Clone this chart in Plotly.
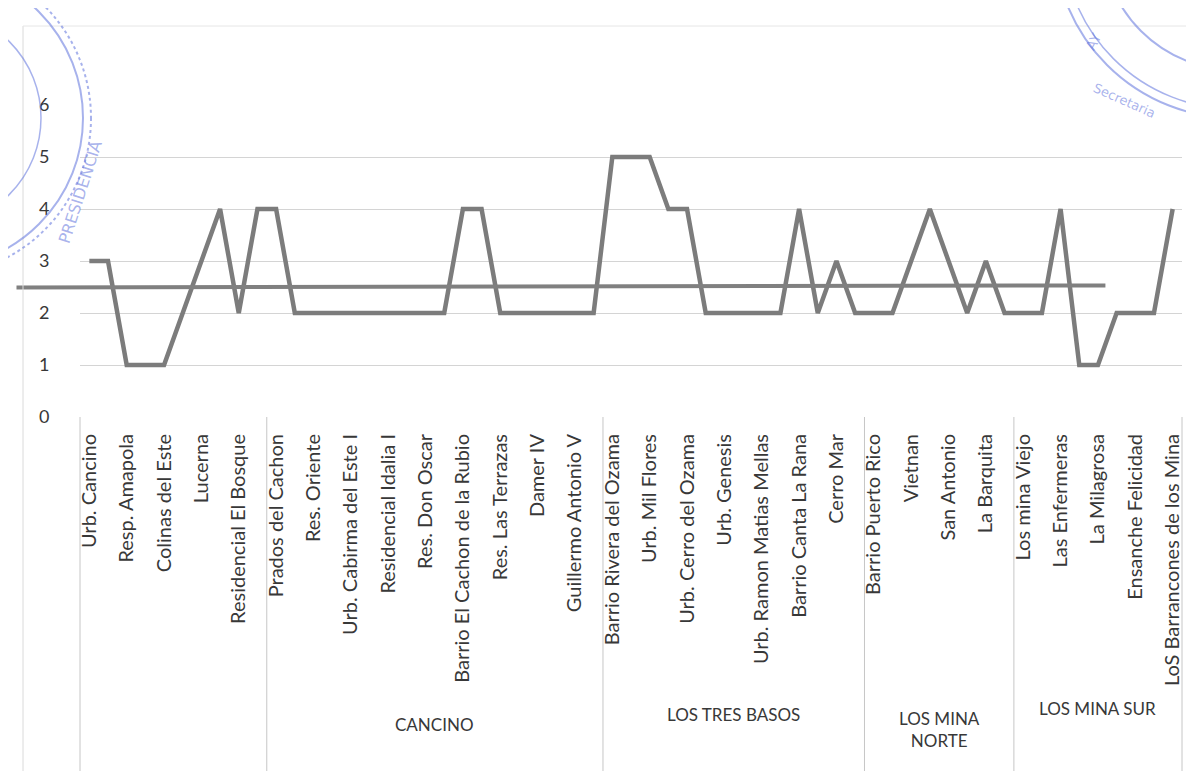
import plotly.graph_objects as go

# ---------------- data ----------------
values = [3, 3, 1, 1, 1, 2, 3, 4, 2, 4,
          4, 2, 2, 2, 2, 2, 2, 2, 2, 2,
          4, 4, 2, 2, 2, 2, 2, 2, 5, 5,
          5, 4, 4, 2, 2, 2, 2, 2, 4, 2,
          3, 2, 2, 2, 3, 4, 3, 2, 3, 2,
          2, 2, 4, 1, 1, 2, 2, 2, 4]

tick_labels = ["Urb. Cancino", "Resp. Amapola", "Colinas del Este", "Lucerna",
               "Residencial El Bosque", "Prados del Cachon", "Res. Oriente",
               "Urb. Cabirma del Este I", "Residencial Idalia I", "Res. Don Oscar",
               "Barrio El Cachon de la Rubio", "Res. Las Terrazas", "Damer IV",
               "Guillermo Antonio V", "Barrio Rivera del Ozama", "Urb. Mil Flores",
               "Urb. Cerro del Ozama", "Urb. Genesis", "Urb. Ramon Matias Mellas",
               "Barrio Canta La Rana", "Cerro Mar", "Barrio Puerto Rico", "Vietnan",
               "San Antonio", "La Barquita", "Los mina Viejo", "Las Enfermeras",
               "La Milagrosa", "Ensanche Felicidad", "LoS Barrancones de los Mina"]

group_names = ["", "CANCINO", "LOS TRES BASOS", "LOS MINA<br>NORTE", "LOS MINA SUR"]
group_sizes = [10, 18, 14, 8, 9]
group_label_y = [-0.99, -0.985, -0.955, -1.0, -0.935]   # paper units below the axis

y_ticks = [0, 1, 2, 3, 4, 5, 6]

trend_x = [-3.9, 54.4]
trend_y = [2.49, 2.53]

# ---------------- layout geometry ----------------
W, H = 1194, 771
L, R, T, B = 72, 20, 97, 362
PW, PH = W - L - R, H - T - B

n = len(values)
x = list(range(n))
tick_pos = x[::2]
X_RANGE = [-0.5, n - 0.5]
Y_RANGE = [0, 6]


def xp(v):  # data x -> paper x
    return (v - X_RANGE[0]) / (X_RANGE[1] - X_RANGE[0])


def yp(v):  # data y -> paper y
    return (v - Y_RANGE[0]) / (Y_RANGE[1] - Y_RANGE[0])


def pxx(px):  # pixel -> paper (decoration only)
    return (px - L) / PW


def pxy(py):
    return (H - B - py) / PH


TXT = "#383838"
LINEC = "#7c7c7c"
GRID = "#d4d4d4"
DIV = "#c6c6c6"

fig = go.Figure()
fig.add_trace(go.Scatter(
    x=x, y=values, mode="lines",
    line=dict(color=LINEC, width=4.5),
    showlegend=False, hoverinfo="y"))

shapes = []
# trend line (drawn in paper space so it is not clipped at the axis)
shapes.append(dict(type="line", xref="paper", yref="paper",
                   x0=xp(trend_x[0]), x1=xp(trend_x[1]),
                   y0=yp(trend_y[0]), y1=yp(trend_y[1]),
                   line=dict(color="#808080", width=4), layer="above"))

# group dividers below the axis
bounds = [-0.5]
for s in group_sizes:
    bounds.append(bounds[-1] + s)
y_bottom = pxy(764)
for b in bounds:
    shapes.append(dict(type="line", xref="paper", yref="paper",
                       x0=xp(b), x1=xp(b), y0=0, y1=y_bottom,
                       line=dict(color=DIV, width=1)))
shapes.append(dict(type="line", xref="paper", yref="paper",
                   x0=xp(bounds[0]), x1=xp(bounds[-1]), y0=y_bottom, y1=y_bottom,
                   line=dict(color=DIV, width=1)))

# page border lines of the scanned chart
for px in (15, 1190):
    shapes.append(dict(type="line", xref="paper", yref="paper",
                       x0=pxx(px), x1=pxx(px), y0=pxy(18), y1=pxy(H),
                       line=dict(color="#dadada", width=1)))
shapes.append(dict(type="line", xref="paper", yref="paper",
                   x0=pxx(15), x1=pxx(1190), y0=pxy(18), y1=pxy(18),
                   line=dict(color="#e6e6e6", width=1)))

# stamps (decoration)
STAMP = "rgba(95,115,220,0.55)"
for cx, cy, r, dash, w in [(-75, 110, 158, "dot", 2), (-75, 110, 150, "solid", 2),
                           (-75, 110, 108, "solid", 1.5),
                           (1227, -71, 181, "solid", 2), (1227, -71, 172, "solid", 1.5),
                           (1227, -71, 133, "solid", 2)]:
    shapes.append(dict(type="circle", xref="paper", yref="paper",
                       x0=pxx(cx - r), x1=pxx(cx + r), y0=pxy(cy + r), y1=pxy(cy - r),
                       line=dict(color=STAMP, width=w, dash=dash)))

annotations = []
for i, name in enumerate(group_names):
    if not name:
        continue
    c = (bounds[i] + bounds[i + 1]) / 2
    annotations.append(dict(x=xp(c), y=group_label_y[i], xref="paper", yref="paper",
                            text=name, showarrow=False,
                            font=dict(family="Lato", size=17, color=TXT),
                            xanchor="center", yanchor="middle"))

annotations.append(dict(x=pxx(44), y=pxy(128), xref="paper", yref="paper",
                        text="PRESIDENCIA", showarrow=False, textangle=-72,
                        font=dict(family="DejaVu Sans", size=16, color=STAMP)))
annotations.append(dict(x=pxx(1152), y=pxy(70), xref="paper", yref="paper",
                        text="Secretaria", showarrow=False, textangle=24,
                        font=dict(family="DejaVu Sans", size=13, color=STAMP)))
annotations.append(dict(x=pxx(1099), y=pxy(20), xref="paper", yref="paper",
                        text="AY", showarrow=False, textangle=-62,
                        font=dict(family="DejaVu Sans", size=14, color=STAMP)))

fig.update_layout(
    width=W, height=H,
    margin=dict(l=L, r=R, t=T, b=B, autoexpand=False),
    paper_bgcolor="white", plot_bgcolor="white",
    shapes=shapes, annotations=annotations,
    showlegend=False,
    xaxis=dict(range=X_RANGE, tickmode="array", tickvals=tick_pos, ticktext=tick_labels,
               tickangle=-90, showgrid=False, zeroline=False, showline=False,
               ticks="outside", ticklen=8, tickcolor="rgba(0,0,0,0)",
               tickfont=dict(family="Lato", size=20, color=TXT), fixedrange=True),
    yaxis=dict(range=Y_RANGE, tickvals=y_ticks, showgrid=True, gridcolor=GRID, gridwidth=1,
               zeroline=False, showline=False,
               ticks="outside", ticklen=26, tickcolor="rgba(0,0,0,0)",
               tickfont=dict(family="Lato", size=18, color=TXT), fixedrange=True),
)

fig.write_html("out.html")
